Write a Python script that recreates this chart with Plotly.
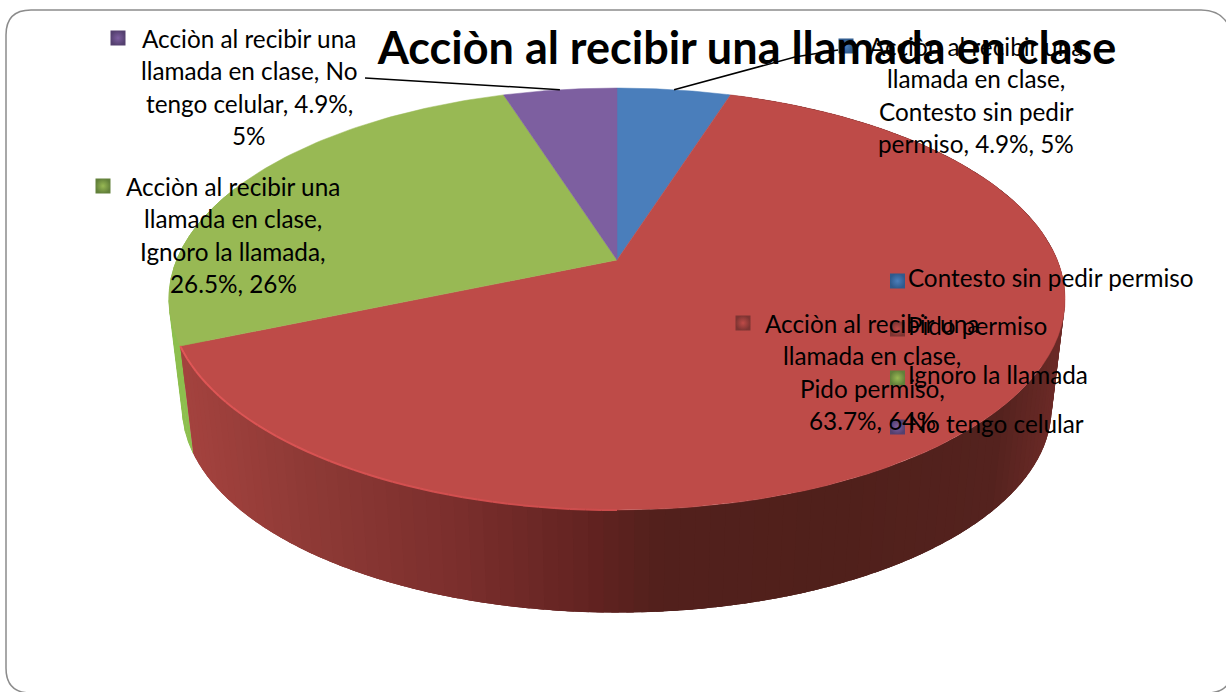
import numpy as np
import plotly.graph_objects as go

# ---- data ----
TITLE = "Acciòn al recibir una llamada en clase"
categories = ["Contesto sin pedir permiso", "Pido permiso", "Ignoro la llamada", "No tengo celular"]
values = [4.9, 63.7, 26.5, 4.9]
rounded = [5, 64, 26, 5]
label_lines = [
    ["Acciòn al recibir una", "llamada en clase,", "Contesto sin pedir", "permiso, {v}%, {r}%"],
    ["Acciòn al recibir una", "llamada en clase,", "Pido permiso,", "{v}%, {r}%"],
    ["Acciòn al recibir una", "llamada en clase,", "Ignoro la llamada,", "{v}%, {r}%"],
    ["Acciòn al recibir una", "llamada en clase, No", "tengo celular, {v}%,", "{r}%"],
]

# ---- styles / layout ----
W, H = 1226, 692
FONT = "Lato"
TEXT_SIZE = 24.3
TITLE_SIZE = 45
LINE_H = 32.6
top_colors = ["#4a7ebb", "#be4b48", "#98b954", "#7d5fa0"]
mark_dark = ["#2f5a8c", "#7d3432", "#62803a", "#54406f"]
label_cx = [976, 872, 233, 249]
label_y0 = [46, 323, 186, 38]
label_mark_x = [846, 743, 103, 118]
legend_x = 897.5
legend_y = [281, 329, 378, 427]
CX, APEX_Y, R, PERSP, VSCALE = 617, 260, 440.3, 0.185, 203.8
SHRINK, BOTTOM_APEX_Y = 0.97, 370
side_stops = [(185, (163, 66, 62)), (300, (143, 58, 54)), (460, (122, 46, 44)), (600, (96, 34, 32)),
              (660, (82, 32, 28)), (850, (80, 32, 27)), (1000, (84, 34, 30)), (1065, (108, 42, 39))]
green_side = "#8dbf4e"


def project(theta):
    """Clockwise angle from 12 o'clock on the disc -> position on the tilted top face."""
    u, v = np.sin(theta), -np.cos(theta)
    d = 1 - PERSP * v
    return CX + R * u / d, APEX_Y + VSCALE * v / d


def project_bottom(theta):
    x, y = project(theta)
    return CX + SHRINK * (x - CX), BOTTOM_APEX_Y + SHRINK * (y - APEX_Y)


def side_color(x):
    xs = [s[0] for s in side_stops]
    rgb = [np.interp(x, xs, [s[1][i] for s in side_stops]) for i in range(3)]
    return "rgb({:.0f},{:.0f},{:.0f})".format(*rgb)


def poly(xs, ys, color, width=0):
    return go.Scatter(x=list(xs), y=list(ys), mode="lines" if width else "none", fill="toself",
                      fillcolor=color, line=dict(color=color, width=width),
                      hoverinfo="skip", showlegend=False)


def wall(a, b, color):
    ts = np.linspace(a, b, 4)
    xt, yt = project(ts)
    xb, yb = project_bottom(ts)
    return poly(np.r_[xt, xb[::-1]], np.r_[yt, yb[::-1]], color)


total = sum(values)
edges = 2 * np.pi * np.cumsum([0] + values) / total
fig = go.Figure()

# side walls (painted first; the top face covers the hidden part)
t_green = np.linspace(edges[2], np.radians(292), 16)
for a, b in zip(t_green[:-1], t_green[1:]):
    fig.add_trace(poly(*[np.r_[p, q[::-1]] for p, q in zip(project(np.array([a, b])),
                                                           project_bottom(np.array([a, b])))], green_side, 1))

# red wall: painted from both far ends towards the front, each strip overlapping the previous one
t_red = np.linspace(edges[1], edges[2], 141)
step = t_red[1] - t_red[0]
for a in t_red[:-1]:
    x_mid = project(np.array([a + step / 2]))[0][0]
    fig.add_trace(wall(a, min(a + 2.5 * step, edges[2]), side_color(x_mid)))

# top face
for i, c in enumerate(top_colors):
    ts = np.linspace(edges[i], edges[i + 1], 90)
    x, y = project(ts)
    fig.add_trace(poly(np.r_[CX, x, CX], np.r_[APEX_Y, y, APEX_Y], c, 0.5))

# bright rim on the front-left edge of the red slice
t_rim = np.linspace(edges[2], np.pi, 41)
for k, (a, b) in enumerate(zip(t_rim[:-1], t_rim[1:])):
    f = k / 39
    x, y = project(np.array([a, b]))
    col = "rgb({:.0f},{:.0f},{:.0f})".format(226 - 22 * f, 88 - 12 * f, 88 - 12 * f)
    fig.add_trace(go.Scatter(x=x, y=y, mode="lines", line=dict(color=col, width=2),
                             hoverinfo="skip", showlegend=False))

# leader lines
mid = (edges[:-1] + edges[1:]) / 2
ax, ay = project(mid[0])
fig.add_trace(go.Scatter(x=[ax, 795, 838], y=[ay, 57, 50], mode="lines",
                         line=dict(color="black", width=1.5), hoverinfo="skip", showlegend=False))
ax, ay = project(mid[3])
fig.add_trace(go.Scatter(x=[ax, 372, 365], y=[ay, 78, 78], mode="lines",
                         line=dict(color="black", width=1.5), hoverinfo="skip", showlegend=False))

# data label keys
fig.add_trace(go.Scatter(
    x=label_mark_x, y=label_y0, mode="markers", hoverinfo="skip", showlegend=False,
    marker=dict(symbol="square", size=15, color=mark_dark,
                gradient=dict(type="radial", color=top_colors), line=dict(width=0))))

# legend
for i, name in enumerate(categories):
    fig.add_trace(go.Scatter(
        x=[legend_x], y=[legend_y[i]], mode="markers+text", text=[name], textposition="middle right",
        textfont=dict(family=FONT, size=TEXT_SIZE, color="black"), name=name, showlegend=False,
        hoverinfo="skip",
        marker=dict(symbol="square", size=15, color=mark_dark[i],
                    gradient=dict(type="radial", color=top_colors[i]), line=dict(width=0))))

# data labels
annotations = []
for i, lines in enumerate(label_lines):
    for j, tmpl in enumerate(lines):
        annotations.append(dict(
            x=label_cx[i], y=label_y0[i] + j * LINE_H, xref="x", yref="y", showarrow=False,
            xanchor="center", yanchor="middle", align="center",
            text=tmpl.format(v=values[i], r=rounded[i]),
            font=dict(family=FONT, size=TEXT_SIZE, color="black")))

frame = ("M 6 35 Q 6 10 31 10 L 1201 10 Q 1226 10 1232 35 L 1232 668 "
         "Q 1232 693 1207 693 L 31 693 Q 6 693 6 668 Z")

fig.update_layout(
    width=W, height=H, margin=dict(l=0, r=0, t=0, b=0),
    paper_bgcolor="white", plot_bgcolor="rgba(0,0,0,0)", showlegend=False,
    title=dict(text=TITLE, x=747 / W, xanchor="center", xref="paper",
               y=1 - 48 / H, yanchor="middle", yref="paper",
               font=dict(family=FONT, size=TITLE_SIZE, color="black", weight="bold")),
    xaxis=dict(range=[0, W], visible=False, fixedrange=True),
    yaxis=dict(range=[H, 0], visible=False, fixedrange=True),
    annotations=annotations,
    shapes=[dict(type="path", path=frame, xref="x", yref="y", layer="below",
                 line=dict(color="#8c8c8c", width=1.5), fillcolor="white")],
)

fig.write_html("out.html", config=dict(displayModeBar=False),
               post_script="document.body.style.margin='0';")
